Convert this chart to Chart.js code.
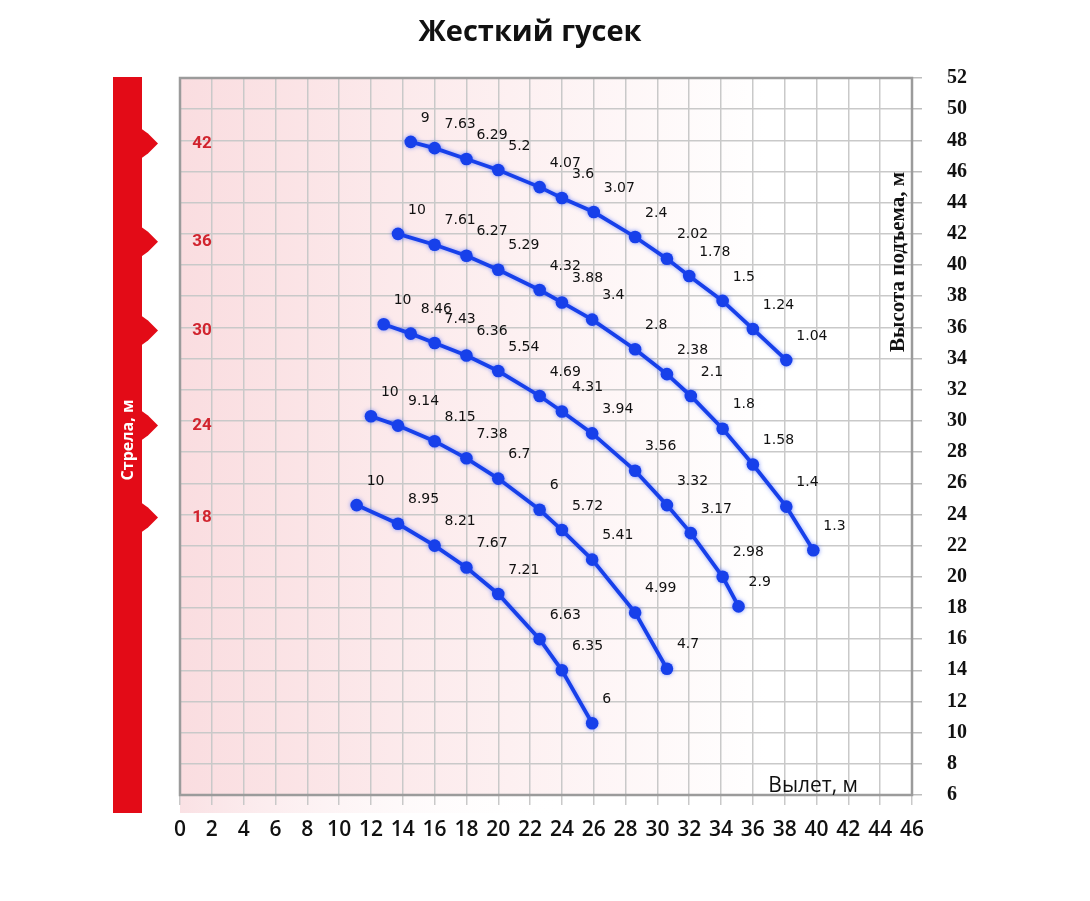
<!DOCTYPE html>
<html>
<head>
<meta charset="utf-8">
<script src="https://cdn.jsdelivr.net/npm/chart.js@4.4.0/dist/chart.umd.min.js"></script>
<style>
  html, body { margin: 0; padding: 0; background: #fff; }
  #wrap { width: 1090px; height: 901px; }
</style>
</head>
<body>
<div id="wrap"><canvas id="grafico" width="1090" height="901"></canvas></div>
<script>
// стрела, м
const strely = ['42', '36', '30', '24', '18'];
const strelyY = [47.8, 41.5, 35.8, 29.7, 23.8];

// вылет (x), высота (y), грузоподъемность (подписи)
const vylet42 = [14.5, 16, 18, 20, 22.6, 24, 26, 28.6, 30.6, 32, 34.1, 36, 38.1];
const vysota42 = [47.9, 47.5, 46.8, 46.1, 45.0, 44.3, 43.4, 41.8, 40.4, 39.3, 37.7, 35.9, 33.9];
const gruz42 = ['9', '7.63', '6.29', '5.2', '4.07', '3.6', '3.07', '2.4', '2.02', '1.78', '1.5', '1.24', '1.04'];

const vylet36 = [13.7, 16, 18, 20, 22.6, 24, 25.9, 28.6, 30.6, 32.1, 34.1, 36, 38.1, 39.8];
const vysota36 = [42.0, 41.3, 40.6, 39.7, 38.4, 37.6, 36.5, 34.6, 33.0, 31.6, 29.5, 27.2, 24.5, 21.7];
const gruz36 = ['10', '7.61', '6.27', '5.29', '4.32', '3.88', '3.4', '2.8', '2.38', '2.1', '1.8', '1.58', '1.4', '1.3'];

const vylet30 = [12.8, 14.5, 16, 18, 20, 22.6, 24, 25.9, 28.6, 30.6, 32.1, 34.1, 35.1];
const vysota30 = [36.2, 35.6, 35.0, 34.2, 33.2, 31.6, 30.6, 29.2, 26.8, 24.6, 22.8, 20.0, 18.1];
const gruz30 = ['10', '8.46', '7.43', '6.36', '5.54', '4.69', '4.31', '3.94', '3.56', '3.32', '3.17', '2.98', '2.9'];

const vylet24 = [12, 13.7, 16, 18, 20, 22.6, 24, 25.9, 28.6, 30.6];
const vysota24 = [30.3, 29.7, 28.7, 27.6, 26.3, 24.3, 23.0, 21.1, 17.7, 14.1];
const gruz24 = ['10', '9.14', '8.15', '7.38', '6.7', '6', '5.72', '5.41', '4.99', '4.7'];

const vylet18 = [11.1, 13.7, 16, 18, 20, 22.6, 24, 25.9];
const vysota18 = [24.6, 23.4, 22.0, 20.6, 18.9, 16.0, 14.0, 10.6];
const gruz18 = ['10', '8.95', '8.21', '7.67', '7.21', '6.63', '6.35', '6'];

const xMin = 0, xMax = 46, yMin = 6, yMax = 52;

const azul = '#1740ea';

function serie(xs, ys, labels) {
    return {
        data: xs.map((x, i) => ({ x: x, y: ys[i] })),
        etiquetas: labels,
        showLine: true,
        borderColor: azul,
        backgroundColor: azul,
        borderWidth: 3.8,
        pointRadius: 6.3,
        pointHoverRadius: 6.3,
        pointBorderWidth: 0,
        tension: 0
    };
}

const fondo = {
    id: 'fondo',
    beforeDraw(chart) {
        const { ctx, chartArea: a } = chart;
        ctx.save();
        ctx.fillStyle = '#fff';
        ctx.fillRect(0, 0, chart.width, chart.height);
        const g = ctx.createLinearGradient(a.left, 0, a.right, 0);
        g.addColorStop(0, 'rgb(250,221,224)');
        g.addColorStop(0.45, 'rgb(253,240,241)');
        g.addColorStop(0.8, 'rgb(255,255,255)');
        ctx.fillStyle = g;
        ctx.fillRect(a.left, a.top, a.right - a.left, a.bottom - a.top);
        const g2 = ctx.createLinearGradient(a.left, 0, a.left + 390, 0);
        g2.addColorStop(0, 'rgb(250,225,228)');
        g2.addColorStop(1, 'rgba(255,255,255,0)');
        ctx.fillStyle = g2;
        ctx.fillRect(a.left, a.bottom, 390, 18);

        // красная полоса "Стрела, м"
        const ys = chart.scales.y;
        ctx.fillStyle = '#e30b17';
        ctx.fillRect(113, a.top - 1, 29, a.bottom + 18 - a.top + 1);
        strelyY.forEach(v => {
            const py = ys.getPixelForValue(v);
            ctx.beginPath();
            ctx.moveTo(141, py - 15);
            ctx.lineTo(148, py - 10);
            ctx.lineTo(158, py);
            ctx.lineTo(148, py + 10);
            ctx.lineTo(141, py + 15);
            ctx.closePath();
            ctx.fill();
        });
        ctx.restore();
    },
    beforeDatasetsDraw(chart) {
        const { ctx, chartArea: a } = chart;
        ctx.save();
        ctx.strokeStyle = '#9b9b9b';
        ctx.lineWidth = 2.5;
        ctx.strokeRect(a.left, a.top, a.right - a.left, a.bottom - a.top);
        ctx.shadowColor = 'rgba(40,80,255,0.55)';
        ctx.shadowBlur = 4;
    },
    afterDatasetsDraw(chart) {
        const { ctx, chartArea: a } = chart;
        ctx.restore();
        ctx.save();
        // подписи грузоподъемности
        ctx.fillStyle = '#111';
        ctx.font = '14px "DejaVu Sans"';
        ctx.textAlign = 'left';
        ctx.textBaseline = 'middle';
        chart.data.datasets.forEach((ds, i) => {
            chart.getDatasetMeta(i).data.forEach((pt, j) => {
                ctx.fillText(ds.etiquetas[j], pt.x + 10, pt.y - 24);
            });
        });

        // красные подписи стрелы
        const ys = chart.scales.y;
        ctx.fillStyle = '#d1242e';
        ctx.font = 'bold 17px Roboto';
        ctx.textAlign = 'center';
        strely.forEach((t, i) => {
            ctx.fillText(t, a.left + 22, ys.getPixelForValue(strelyY[i]));
        });

        // "Стрела, м"
        ctx.save();
        ctx.translate(128, 440);
        ctx.rotate(-Math.PI / 2);
        ctx.fillStyle = '#fff';
        ctx.font = 'bold 16px "Open Sans"';
        ctx.fillText('Стрела, м', 0, 0);
        ctx.restore();

        // "Высота подъема, м"
        ctx.save();
        ctx.translate(a.right - 13, 262);
        ctx.rotate(-Math.PI / 2);
        ctx.fillStyle = '#111';
        ctx.font = 'bold 21px "Liberation Serif"';
        ctx.fillText('Высота подъема, м', 0, 0);
        ctx.restore();

        // "Вылет, м"
        ctx.fillStyle = '#111';
        ctx.font = '500 21px "Open Sans"';
        ctx.textAlign = 'right';
        ctx.fillText('Вылет, м', a.right - 54, a.bottom - 9);
        ctx.restore();
    }
};

const grafico = document.getElementById('grafico');

new Chart(grafico, {
    type: 'scatter',
    data: {
        datasets: [
            serie(vylet42, vysota42, gruz42),
            serie(vylet36, vysota36, gruz36),
            serie(vylet30, vysota30, gruz30),
            serie(vylet24, vysota24, gruz24),
            serie(vylet18, vysota18, gruz18)
        ]
    },
    options: {
        responsive: false,
        animation: false,
        layout: { padding: { left: 0, right: 30, top: 0, bottom: 0 } },
        plugins: {
            legend: { display: false },
            tooltip: { enabled: false },
            title: {
                display: true,
                text: 'Жесткий гусек',
                color: '#111',
                font: { family: 'Open Sans', size: 29, weight: 'bold' },
                padding: { top: 15, bottom: 28.2 }
            }
        },
        scales: {
            x: {
                type: 'linear',
                position: 'bottom',
                min: xMin,
                max: xMax,
                ticks: {
                    stepSize: 2,
                    color: '#111',
                    padding: 12,
                    maxRotation: 0,
                    autoSkip: false,
                    font: { family: 'Open Sans', size: 21, weight: '600' }
                },
                grid: { color: '#c9c9c9', lineWidth: 1.5, tickLength: 10, tickColor: '#c9c9c9' },
                border: { display: false },
                afterFit: s => { s.height = 106; }
            },
            y: {
                type: 'linear',
                position: 'right',
                min: yMin,
                max: yMax,
                ticks: {
                    stepSize: 2,
                    color: '#111',
                    padding: 25,
                    autoSkip: false,
                    font: { family: 'Liberation Serif', size: 20, weight: 'bold' }
                },
                grid: { color: '#c9c9c9', lineWidth: 1.5, tickLength: 10, tickColor: '#bdbdbd' },
                border: { display: false },
                afterFit: s => { s.width = 148; }
            },
            yl: {
                type: 'linear',
                position: 'left',
                min: yMin,
                max: yMax,
                ticks: { display: false },
                grid: { display: false, drawTicks: false },
                border: { display: false },
                afterFit: s => { s.width = 180; }
            }
        }
    },
    plugins: [fondo]
});
</script>
</body>
</html>
